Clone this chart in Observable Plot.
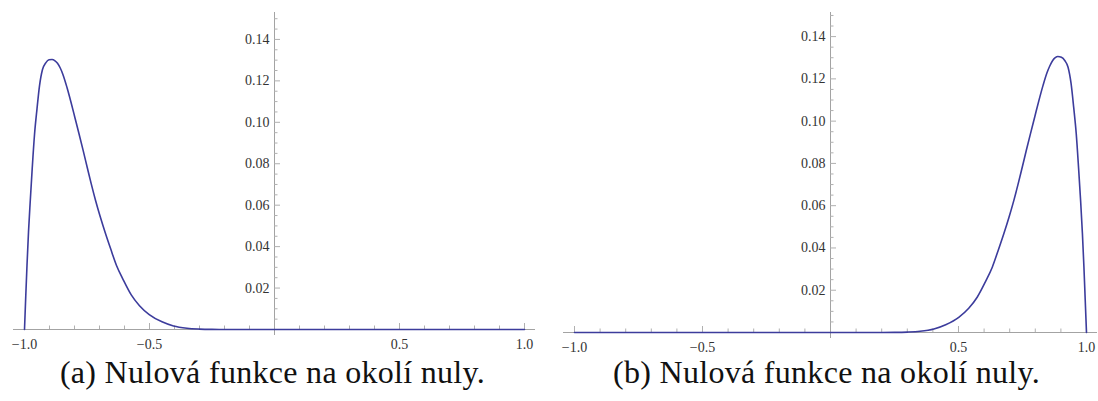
<!DOCTYPE html>
<html>
<head>
<meta charset="utf-8">
<script src="https://cdn.jsdelivr.net/npm/d3@7"></script>
<script src="https://cdn.jsdelivr.net/npm/@observablehq/plot@0.6"></script>
</head>
<body style="margin:0;padding:0;background:#fff">
<div id="wrap" style="position:relative;width:1098px;height:401px;overflow:hidden;background:#fff"></div>
<script>
// ---- data ----
const leftX = [-1.0, -0.995, -0.99, -0.984, -0.977, -0.969, -0.96, -0.95, -0.94, -0.928, -0.915, -0.902, -0.89, -0.878, -0.868, -0.857, -0.846, -0.83, -0.814, -0.798, -0.781, -0.765, -0.749, -0.733, -0.716, -0.697, -0.677, -0.655, -0.632, -0.605, -0.573, -0.54, -0.501, -0.45, -0.404, -0.35, -0.30, -0.25, -0.2, 0.0, 1.0];
const leftY = [0, 0.016, 0.031, 0.047, 0.062, 0.078, 0.094, 0.1065, 0.1176, 0.1255, 0.1287, 0.1302, 0.1303, 0.1297, 0.1285, 0.1262, 0.123, 0.1168, 0.1097, 0.1021, 0.094, 0.0862, 0.0782, 0.0703, 0.0624, 0.0544, 0.0467, 0.0388, 0.0309, 0.024, 0.0167, 0.0115, 0.0072, 0.0037, 0.0017, 0.0006, 0.0002, 0.00005, 0.00001, 0, 0];
const rightX = [-1.0, 0.0, 0.2, 0.25, 0.30, 0.35, 0.404, 0.45, 0.501, 0.54, 0.573, 0.605, 0.632, 0.655, 0.677, 0.697, 0.716, 0.733, 0.749, 0.765, 0.781, 0.798, 0.814, 0.83, 0.846, 0.857, 0.868, 0.878, 0.888, 0.902, 0.915, 0.928, 0.94, 0.95, 0.96, 0.969, 0.977, 0.984, 0.99, 0.995, 1.0];
const rightY = [0, 0, 0.00001, 0.00005, 0.0002, 0.0006, 0.0017, 0.0037, 0.0072, 0.0115, 0.0167, 0.024, 0.0309, 0.0388, 0.0467, 0.0544, 0.0624, 0.0703, 0.0782, 0.0862, 0.094, 0.1021, 0.1097, 0.1168, 0.123, 0.1262, 0.1287, 0.1300, 0.1306, 0.1302, 0.1287, 0.1255, 0.1176, 0.1065, 0.094, 0.078, 0.0624, 0.047, 0.0309, 0.0155, 0];
const xTickLabels = [-1.0, -0.5, 0.5, 1.0];
const xMinorTicks = [-0.9, -0.8, -0.7, -0.6, -0.4, -0.3, -0.2, -0.1, 0.1, 0.2, 0.3, 0.4, 0.6, 0.7, 0.8, 0.9];
const yTickLabels = [0.02, 0.04, 0.06, 0.08, 0.10, 0.12, 0.14];
const yMinorTicks = d3.range(1, 31).map(i => +(i * 0.005).toFixed(3)).filter(v => !yTickLabels.some(t => Math.abs(t - v) < 1e-9));
const captions = ["(a) Nulová funkce na okolí nuly.", "(b) Nulová funkce na okolí nuly."];

const curveColor = "#3c3c9c";
const axisColor = "#a3a3a3";
const tickColor = "#b0b0b0";
const serifFont = "'Liberation Serif', 'Times New Roman', Tinos, serif";

function fmtX(d) { return (d < 0 ? "\u2212" : "") + Math.abs(d).toFixed(1); }

function panel(xs, ys, cfg) {
  const data = xs.map((x, i) => ({x, y: ys[i]}));
  const W = 549, H = 354;
  const plotW = W - cfg.ml - cfg.mr;
  const plotH = H - cfg.mt - cfg.mb;
  const pxX = plotW / (2 * cfg.xMax);
  const pxY = plotH / cfg.yMax;
  const major = 6, minor = 3.5;
  const svg = Plot.plot({
    width: W, height: H,
    marginLeft: cfg.ml, marginRight: cfg.mr, marginTop: cfg.mt, marginBottom: cfg.mb,
    x: {domain: [-cfg.xMax, cfg.xMax], axis: null},
    y: {domain: [0, cfg.yMax], axis: null},
    style: {background: "white", overflow: "visible", fontFamily: serifFont},
    marks: [
      Plot.ruleY([0], {stroke: axisColor, strokeWidth: 1}),
      Plot.ruleX([0], {y1: -6 / pxY, y2: cfg.yMax, stroke: axisColor, strokeWidth: 1}),
      Plot.ruleX(xMinorTicks, {x: d => d, y1: 0, y2: minor / pxY, stroke: tickColor}),
      Plot.ruleX(xTickLabels, {x: d => d, y1: 0, y2: major / pxY, stroke: tickColor}),
      Plot.ruleY(yMinorTicks, {y: d => d, x1: 0, x2: minor / pxX, stroke: tickColor}),
      Plot.ruleY(yTickLabels, {y: d => d, x1: 0, x2: major / pxX, stroke: tickColor}),
      Plot.text(xTickLabels, {x: d => d, y: 0, dy: 15, text: fmtX, fontFamily: serifFont, fontSize: 14, fill: "#333"}),
      Plot.text(yTickLabels, {x: 0, y: d => d, dx: -5, text: d => d.toFixed(2), textAnchor: "end", fontFamily: serifFont, fontSize: 14, fill: "#333"}),
      Plot.line(data, {x: "x", y: "y", stroke: curveColor, strokeWidth: 1.6, curve: "monotone-x"})
    ]
  });
  svg.style.fontFamily = serifFont;
  return svg;
}

const wrap = document.getElementById("wrap");
const cfgs = [
  {left: 0, capLeft: -2, ml: 13, mr: 14, mt: 12, mb: 25, xMax: 1.044, yMax: 0.153},
  {left: 549, capLeft: 552, ml: 14, mr: 1, mt: 12, mb: 22, xMax: 1.043, yMax: 0.1514}
];
[[leftX, leftY], [rightX, rightY]].forEach(([xs, ys], i) => {
  const div = document.createElement("div");
  div.style.position = "absolute";
  div.style.top = "0px";
  div.style.left = cfgs[i].left + "px";
  div.appendChild(panel(xs, ys, cfgs[i]));
  wrap.appendChild(div);
  const cap = document.createElement("div");
  cap.style.position = "absolute";
  cap.style.top = "356px";
  cap.style.left = cfgs[i].capLeft + "px";
  cap.style.width = "549px";
  cap.style.textAlign = "center";
  cap.style.fontFamily = "'Liberation Serif', serif";
  cap.style.fontSize = "32px";
  cap.style.lineHeight = "32px";
  cap.style.letterSpacing = "0.3px";
  cap.style.color = "#111";
  cap.style.whiteSpace = "nowrap";
  cap.textContent = captions[i];
  wrap.appendChild(cap);
});
</script>
</body>
</html>
